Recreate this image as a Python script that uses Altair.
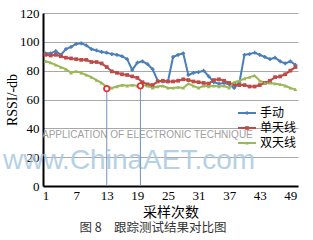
import altair as alt
import pandas as pd

samples = list(range(1, 51))
manual = [92, 92, 93.5, 91, 95, 96.5, 98.5, 99, 97.5, 95,
          94, 93, 92.5, 91.5, 91, 90, 88, 80.5, 85.5, 86.5,
          84.5, 81, 73, 72.5, 72.5, 89.5, 91, 92, 77, 78.5,
          79, 80, 76, 72, 71, 71.5, 70.5, 68, 71.5, 91,
          91.5, 92.5, 91, 89.5, 88, 89, 86.5, 85, 86.5, 84]
single = [91, 90.5, 91, 90, 89, 88.5, 88, 87.5, 87.5, 86,
          86, 85, 82.5, 79.5, 78.5, 77.5, 77, 76, 75, 72,
          70.5, 70, 72.5, 73, 72.5, 72.5, 73, 74, 73.5, 72.5,
          72, 71.5, 71, 73.5, 74, 73, 71.5, 70.5, 70, 70,
          69, 69, 70, 71.5, 73, 75.5, 76, 77.5, 80, 82.5]
dual = [86.5, 85.5, 84, 82.5, 81, 78.5, 79.5, 78.5, 77, 75.5,
        73.5, 71.5, 68.5, 68, 69, 70, 69.5, 70, 69.5, 70,
        69.5, 68, 69, 69.5, 68, 68, 68.5, 68, 71, 69.5,
        68, 69.5, 69, 69.5, 69, 69.5, 68, 72, 73, 74.5,
        75.5, 76.5, 73, 71.5, 71.5, 71, 70.5, 69.5, 68, 67]

series_names = ["手动", "单天线", "双天线"]
series_colors = ["#4a7ebb", "#be4b48", "#98b954"]
series_shapes = ["cross", "square", "triangle-up"]
x_ticks = [1, 7, 13, 19, 25, 31, 37, 43, 49]
y_ticks = [0, 20, 40, 60, 80, 100, 120]
mark_x = [13, 19.6]
mark_y = [67.5, 69.5]

rows = []
for name, vals in zip(series_names, [manual, single, dual]):
    for s, v in zip(samples, vals):
        rows.append({"sample": s, "rssi": v, "series": name})
df = pd.DataFrame(rows)
marks_df = pd.DataFrame({"sample": mark_x, "rssi": mark_y, "base": [0, 0]})

W, H = 255, 173
CJK = "Noto Sans CJK SC"
SERIF = "Liberation Serif"

xs = alt.Scale(domain=[0.5, 50.5], nice=False, zero=False)
ys = alt.Scale(domain=[0, 120], nice=False)
cs = alt.Scale(domain=series_names, range=series_colors)
ss = alt.Scale(domain=series_names, range=series_shapes)

x_axis = alt.Axis(values=x_ticks, title="采样次数", grid=False, ticks=False,
                  domainColor="black", domainWidth=2, labelFont=SERIF,
                  labelFontSize=13, labelColor="black", labelPadding=3,
                  labelOverlap=False, labelFlush=False,
                  titleFont=CJK, titleFontSize=14, titleFontWeight="normal",
                  titleColor="black", titlePadding=3)
y_axis = alt.Axis(values=y_ticks, title="RSSI/-db", grid=True, gridColor="#a8a8a8",
                  ticks=False, domainColor="black", domainWidth=2, labelFont=SERIF,
                  labelFontSize=13, labelColor="black", labelPadding=4,
                  labelOverlap=False, labelFlush=False,
                  titleFont=SERIF, titleFontSize=14, titleFontWeight="normal",
                  titleColor="black", titlePadding=0)

X = alt.X("sample:Q", scale=xs, axis=x_axis)
Y = alt.Y("rssi:Q", scale=ys, axis=y_axis)


def deco_text(txt, x, y, **kw):
    return alt.Chart(pd.DataFrame({"t": [txt]})).mark_text(**kw).encode(
        text="t:N", x=alt.value(x), y=alt.value(y))


wm_app = deco_text("APPLICATION OF ELECTRONIC TECHNIQUE", -1, 122, font="Liberation Sans",
                   fontSize=10, color="#a0a0a0", align="left", baseline="middle")
wm_url = deco_text("www.ChinaAET.com", -40, 148, font="Liberation Sans", fontSize=28,
                   color="#a9c9e0", opacity=0.85, align="left", baseline="middle")

base = alt.Chart(df)
lines = base.mark_line(strokeWidth=2).encode(
    x=X, y=Y,
    color=alt.Color("series:N", scale=cs, legend=None),
    detail="series:N",
)
points = base.mark_point(filled=True, size=14, opacity=1).encode(
    x=X, y=Y,
    color=alt.Color("series:N", scale=cs, legend=None),
    shape=alt.Shape("series:N", scale=ss, legend=None),
)

vrules = alt.Chart(marks_df).mark_rule(color="#6f93c2", strokeWidth=1).encode(
    x=X, y=Y, y2="base:Q")
circles = alt.Chart(marks_df).mark_point(shape="circle", size=30, filled=False,
                                         stroke="#e03030", strokeWidth=1.8,
                                         fill="white", fillOpacity=1).encode(
    x=X, y=Y)

legend_layers = []
for i, (name, col, shp) in enumerate(zip(series_names, series_colors, series_shapes)):
    ly = 100 + 15 * i
    ldf = pd.DataFrame({"t": [name]})
    legend_layers.append(alt.Chart(ldf).mark_rule(color=col, strokeWidth=2).encode(
        x=alt.value(195), x2=alt.value(213), y=alt.value(ly)))
    legend_layers.append(alt.Chart(ldf).mark_point(shape=shp, filled=True, size=14,
                                                   color=col, opacity=1).encode(
        x=alt.value(204), y=alt.value(ly)))
    legend_layers.append(alt.Chart(ldf).mark_text(font=CJK, fontSize=12, color="black",
                                                  align="left", baseline="middle").encode(
        text="t:N", x=alt.value(217), y=alt.value(ly)))

caption = deco_text("图 8　跟踪测试结果对比图", 110, 215, font=CJK, fontSize=12.5,
                    color="#333333", align="center", baseline="middle")

chart = alt.layer(
    lines, wm_app, wm_url, vrules, points, circles, *legend_layers, caption
).properties(
    width=W, height=H,
    padding={"left": 43, "top": 13, "right": 15, "bottom": 54},
    autosize=alt.AutoSizeParams(type="none"),
    background="white",
).configure_view(stroke=None)

chart.save("out.html", embed_options={"renderer": "svg", "actions": False})
